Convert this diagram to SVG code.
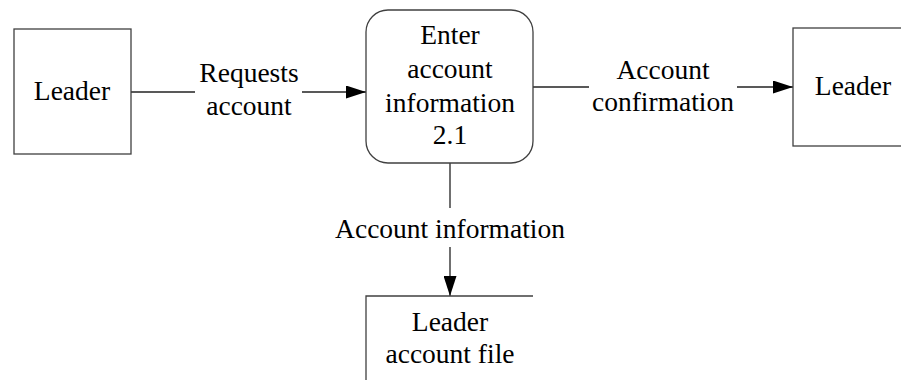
<svg xmlns="http://www.w3.org/2000/svg" width="901" height="380" viewBox="0 0 901 380">
  <defs>
    <marker id="arrow" markerWidth="20" markerHeight="13" refX="20" refY="6.5" orient="auto" markerUnits="userSpaceOnUse">
      <path d="M0,0 L20,6.5 L0,13 Z" fill="#000"/>
    </marker>
    <style>
      .shape { fill: #fff; stroke: #404040; stroke-width: 1.3; }
      .edge { fill: none; stroke: #222; stroke-width: 1.3; }
      text { font-family: "Liberation Serif", "Times New Roman", serif; font-size: 27.5px; fill: #000; text-anchor: middle; }
    </style>
  </defs>
  <rect width="901" height="380" fill="#fff"/>

  <g id="connectors">
    <line class="edge" x1="131" y1="92" x2="195" y2="92"/>
    <line class="edge" x1="302" y1="92" x2="366" y2="92" marker-end="url(#arrow)"/>
    <line class="edge" x1="533" y1="87" x2="589" y2="87"/>
    <line class="edge" x1="737" y1="87" x2="793" y2="87" marker-end="url(#arrow)"/>
    <line class="edge" x1="450" y1="163" x2="450" y2="208"/>
    <line class="edge" x1="450" y1="247" x2="450" y2="296" marker-end="url(#arrow)"/>
    <text x="249" y="82">Requests</text>
    <text x="249" y="115">account</text>
    <text x="663" y="79">Account</text>
    <text x="663" y="111">confirmation</text>
    <text x="450" y="238">Account information</text>
  </g>

  <g id="leader-left">
    <rect class="shape" x="14" y="29" width="117" height="125"/>
    <text x="72" y="100">Leader</text>
  </g>

  <g id="process-2-1">
    <rect class="shape" x="366" y="10" width="167" height="153" rx="22" ry="22"/>
    <text x="450" y="44">Enter</text>
    <text x="450" y="78">account</text>
    <text x="450" y="112">information</text>
    <text x="450" y="144">2.1</text>
  </g>

  <g id="leader-right">
    <rect class="shape" x="793" y="28" width="120" height="118"/>
    <text x="853" y="95">Leader</text>
  </g>

  <g id="leader-account-file">
    <path class="shape" d="M533,296 L366,296 L366,381" fill="none"/>
    <text x="450" y="331">Leader</text>
    <text x="450" y="363">account file</text>
  </g>
</svg>
